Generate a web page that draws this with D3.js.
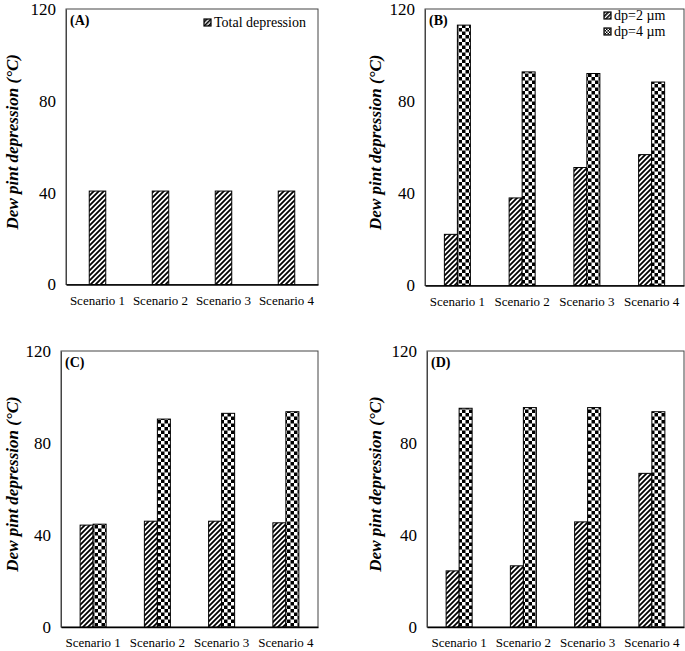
<!DOCTYPE html>
<html><head><meta charset="utf-8">
<script src="https://cdn.jsdelivr.net/npm/d3@7"></script>
<style>body{margin:0;background:#fff}svg{display:block}svg text{font-family:"Times New Roman","Liberation Serif",Tinos,Times,serif}</style>
</head><body>
<svg id="c" width="685" height="651"></svg>
<script>
const categories = ["Scenario 1","Scenario 2","Scenario 3","Scenario 4"];
const yTicks = [0,40,80,120];
const seriesNames = ["dp=2 µm","dp=4 µm"];
const totalA = [40.7,40.7,40.7,40.7];
const dp2B = [22.2,38.0,51.2,56.8];
const dp4B = [113.0,92.7,92.0,88.3];
const dp2C = [44.3,46.0,46.0,45.3];
const dp4C = [44.7,90.4,92.9,93.6];
const dp2D = [24.4,26.6,45.7,66.8];
const dp4D = [95.1,95.4,95.4,93.6];
const yLabel = "Dew pint depression (°C)";

const svg = d3.select("#c");
const defs = svg.append("defs");
const hp = 5;
const h = defs.append("pattern").attr("id","hatch").attr("patternUnits","userSpaceOnUse")
  .attr("width",hp).attr("height",hp);
h.append("rect").attr("width",hp).attr("height",hp).attr("fill","#fff");
h.append("path").attr("d",`M-1,1 L1,-1 M0,${hp} L${hp},0 M${hp-1},${hp+1} L${hp+1},${hp-1}`)
  .attr("stroke","#000").attr("stroke-width",1.8).attr("stroke-linecap","square");
const cs = 3.5;
const ck = defs.append("pattern").attr("id","checker").attr("patternUnits","userSpaceOnUse")
  .attr("width",cs*2).attr("height",cs*2);
ck.append("rect").attr("width",cs*2).attr("height",cs*2).attr("fill","#fff");
ck.append("rect").attr("x",cs).attr("y",0).attr("width",cs).attr("height",cs).attr("fill","#000");
ck.append("rect").attr("x",0).attr("y",cs).attr("width",cs).attr("height",cs).attr("fill","#000");
const hs = defs.append("pattern").attr("id","hatchS").attr("patternUnits","userSpaceOnUse")
  .attr("width",3).attr("height",3).attr("patternTransform","rotate(45)");
hs.append("rect").attr("width",3).attr("height",3).attr("fill","#fff");
hs.append("rect").attr("width",1.6).attr("height",3).attr("fill","#000");
const cks = defs.append("pattern").attr("id","checkerS").attr("patternUnits","userSpaceOnUse")
  .attr("width",3).attr("height",3);
cks.append("rect").attr("width",3).attr("height",3).attr("fill","#fff");
cks.append("rect").attr("x",1.5).attr("width",1.5).attr("height",1.5).attr("fill","#000");
cks.append("rect").attr("y",1.5).attr("width",1.5).attr("height",1.5).attr("fill","#000");

const panels = [
  {tag:"(A)", L:66, R:318, T:9, B:284.5, series:[totalA], fills:["hatch"], bw:16.5, ylx:18,
   legend:{x:204, y:23, items:[["Total depression","hatchS"]]}},
  {tag:"(B)", L:425, R:684, T:9, B:285.5, series:[dp2B,dp4B], fills:["hatch","checker"], bw:13, ylx:381,
   legend:{x:604, y:16, items:[[seriesNames[0],"hatchS"],[seriesNames[1],"checkerS"]]}},
  {tag:"(C)", L:61, R:318, T:351, B:627, series:[dp2C,dp4C], fills:["hatch","checker"], bw:13, ylx:18},
  {tag:"(D)", L:427, R:684, T:351, B:627, series:[dp2D,dp4D], fills:["hatch","checker"], bw:13, ylx:381}
];

panels.forEach(p => {
  const g = svg.append("g");
  const x = d3.scaleBand().domain(categories).range([p.L,p.R]);
  const y = d3.scaleLinear().domain([0,120]).range([p.B,p.T]);
  g.append("rect").attr("x",p.L).attr("y",p.T).attr("width",p.R-p.L).attr("height",p.B-p.T)
    .attr("fill","none").attr("stroke","#444").attr("stroke-width",1);
  const n = p.series.length;
  p.series.forEach((vals,si) => {
    g.selectAll(null).data(vals).enter().append("rect")
      .attr("x",(d,i)=> x(categories[i]) + x.bandwidth()/2 - n*p.bw/2 + si*p.bw)
      .attr("y",d=>y(d)).attr("width",p.bw).attr("height",d=>y(0)-y(d))
      .attr("fill",`url(#${p.fills[si]})`).attr("stroke","#000").attr("stroke-width",1);
  });
  const ya = d3.axisLeft(y).tickValues(yTicks).tickSize(0).tickPadding(10);
  const yg = g.append("g").attr("transform",`translate(${p.L},0)`).call(ya);
  yg.attr("font-family",null).attr("font-size",null);
  yg.select(".domain").attr("stroke","#444");
  yg.selectAll("text").style("font-size","17px").attr("fill","#000");
  const xa = d3.axisBottom(x).tickSize(0).tickPadding(11);
  const xg = g.append("g").attr("transform",`translate(0,${p.B})`).call(xa);
  xg.attr("font-family",null).attr("font-size",null);
  xg.select(".domain").attr("stroke","#000").attr("stroke-width",1.5);
  xg.selectAll("text").style("font-size","13px").attr("fill","#000");
  g.append("text").attr("transform",`translate(${p.ylx},${(p.T+p.B)/2 - 5}) rotate(-90)`)
    .attr("text-anchor","middle").style("font-size","17px").attr("font-weight","bold").attr("font-style","italic")
    .text(yLabel);
  g.append("text").attr("x",p.L+4).attr("y",p.T+16).style("font-size","14px").attr("font-weight","bold").text(p.tag);
  if (p.legend) {
    p.legend.items.forEach((it,i) => {
      const ly = p.legend.y + i*16;
      g.append("rect").attr("x",p.legend.x).attr("y",ly-4).attr("width",7).attr("height",7)
        .attr("fill",`url(#${it[1]})`).attr("stroke","#000").attr("stroke-width",1.2);
      g.append("text").attr("x",p.legend.x+10).attr("y",ly+4).style("font-size","14px").text(it[0]);
    });
  }
});
</script>
</body></html>
